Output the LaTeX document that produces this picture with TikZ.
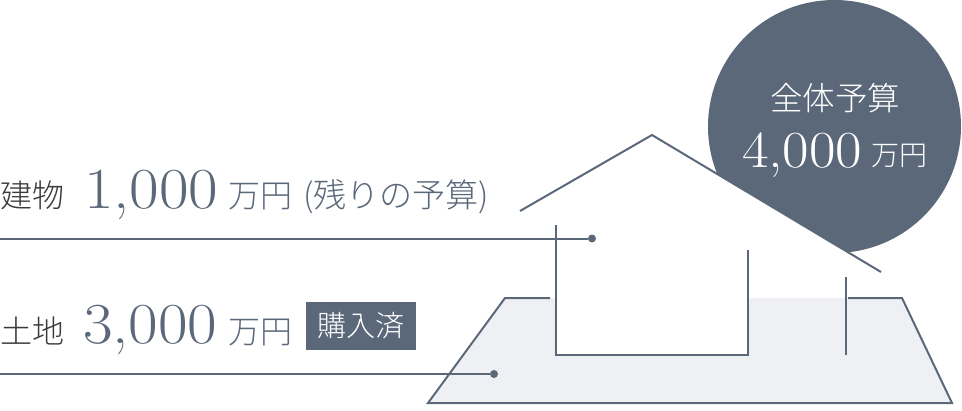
\documentclass[tikz,border=0pt]{standalone}
\usepackage{fontspec}
\setmainfont{Liberation Serif}
\newfontfamily\cjk{Noto Sans CJK JP}[UprightFont=* Light]
\newfontfamily\numfont{lmroman17-regular.otf}[FakeStretch=1.11]
\definecolor{slate}{HTML}{5B6879}
\definecolor{landfill}{HTML}{EFF0F4}
\definecolor{inkdark}{HTML}{3A3A3A}
\tikzset{
  every node/.style={inner sep=0pt,outer sep=0pt},
  outline/.style={draw=slate,line width=2pt},
  dotnode/.style={circle,fill=slate,minimum size=8pt},
  txt/.style={anchor=base west},
}
\newcommand{\fs}[1]{\fontsize{#1}{#1}\selectfont}
\begin{document}
\begin{tikzpicture}[x=1pt,y=-1pt]
\useasboundingbox (0,0) rectangle (962,410);
% budget circle
\node[circle,fill=slate,minimum size=253pt] (budget) at (834.5,126.5) {};
\fill[white] (652,135) -- (900,283.3) -- (652,283.3) -- cycle;
% land
\fill[landfill] (505,298) -- (902,298) -- (952,403) -- (428,403) -- cycle;
\fill[white] (555,283) rectangle (748,354);
% land outline
\draw[outline,line join=miter] (550,298) -- (505,298) -- (428,403) -- (952,403) -- (902,298) -- (848,298);
% house
\draw[outline] (520,211) -- (652,135) -- (881,272);
\draw[outline] (555.5,225) -- (555.5,354.5) -- (748,354.5) -- (748,250);
\draw[outline] (845.5,277) -- (845.5,355);
% leaders
\coordinate (leadA) at (0,238.5);
\coordinate (leadB) at (0,374);
\node[dotnode] (dotA) at (592,238.5) {};
\node[dotnode] (dotB) at (494,374) {};
\draw[outline] (leadA) -- (dotA);
\draw[outline] (leadB) -- (dotB);
% building row
\node[txt,text=inkdark] (bldg) at (1,207) {\cjk\fs{32}建物};
\node[txt,text=slate] (bldgnum) at (84,208) {\numfont\fs{58}1,000};
\node[txt,text=slate] (bldgunit) at (228,207) {\cjk\fs{32}万円};
\node[txt,text=slate] (bldgnote) at (303,207) {\cjk\fs{33.1}(残りの予算)};
% land row
\node[txt,text=inkdark] (landlbl) at (1,343) {\cjk\fs{32}土地};
\node[txt,text=slate] (landnum) at (83,343) {\numfont\fs{58}3,000};
\node[txt,text=slate] (landunit) at (228,343) {\cjk\fs{32}万円};
\node[fill=slate,text=white,minimum width=110pt,minimum height=48pt] (paid) at (361,326) {\cjk\fs{29}購入済};
% circle text
\node[txt,text=white] (total) at (770,110) {\cjk\fs{32.5}全体予算};
\node[txt,text=white] (totalnum) at (742,167) {\numfont\fs{52}4,000};
\node[txt,text=white] (totalunit) at (871,165) {\cjk\fs{28}万円};
\end{tikzpicture}
\end{document}
